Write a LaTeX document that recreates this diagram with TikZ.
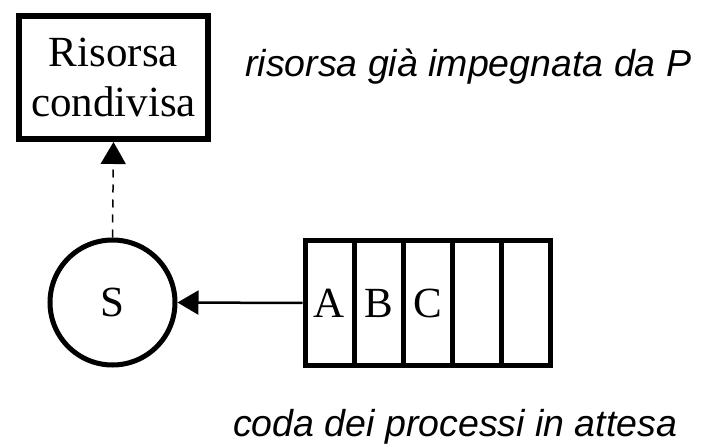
\documentclass[tikz,border=0pt]{standalone}
\usepackage{fontspec}
\setmainfont{Liberation Serif}
\newfontfamily\labelfont{Liberation Sans}
\usetikzlibrary{arrows.meta}
\begin{document}
\begin{tikzpicture}[x=1pt,y=-1pt,
  serifbig/.style={font=\fontsize{43}{50}\selectfont},
  caption/.style={font=\labelfont\itshape\fontsize{37.5}{40}\selectfont, anchor=base west, inner sep=0pt},
  resource/.style={draw, line width=6pt, rectangle, minimum width=189pt, minimum height=123pt, inner sep=0pt, align=center, serifbig},
  semaphore/.style={draw, line width=5pt, circle, minimum size=125pt, inner sep=0pt, serifbig},
  slot/.style={draw, line width=5pt, rectangle, minimum width=49pt, minimum height=125pt, inner sep=0pt, serifbig},
  holds/.style={line width=1.5pt, dash pattern=on 8pt off 7pt, -{Triangle[length=22pt,width=25pt]}},
  waits/.style={line width=2.5pt, -{Triangle[length=21pt,width=24pt]}}]
\useasboundingbox (0,0) rectangle (702,446);

% shared resource
\node[resource] (res) at (113.5,77.5) {Risorsa\\condivisa};
\node[caption] (busy) at (245,77) {risorsa già impegnata da P};

% semaphore
\node[semaphore] (sem) at (112.5,302.5) {S};

% waiting queue
\node[slot] (q1) at (329.5,303) {A};
\node[slot] (q2) at (378.5,303) {B};
\node[slot] (q3) at (427.5,303) {C};
\node[slot] (q4) at (476.5,303) {};
\node[slot] (q5) at (525.5,303) {};
\node[caption] (queue) at (233,437) {coda dei processi in attesa};

% connectors
\draw[holds] (sem.north) -- (res.south);
\draw[waits] (q1.west) -- (sem.east);
\end{tikzpicture}
\end{document}
